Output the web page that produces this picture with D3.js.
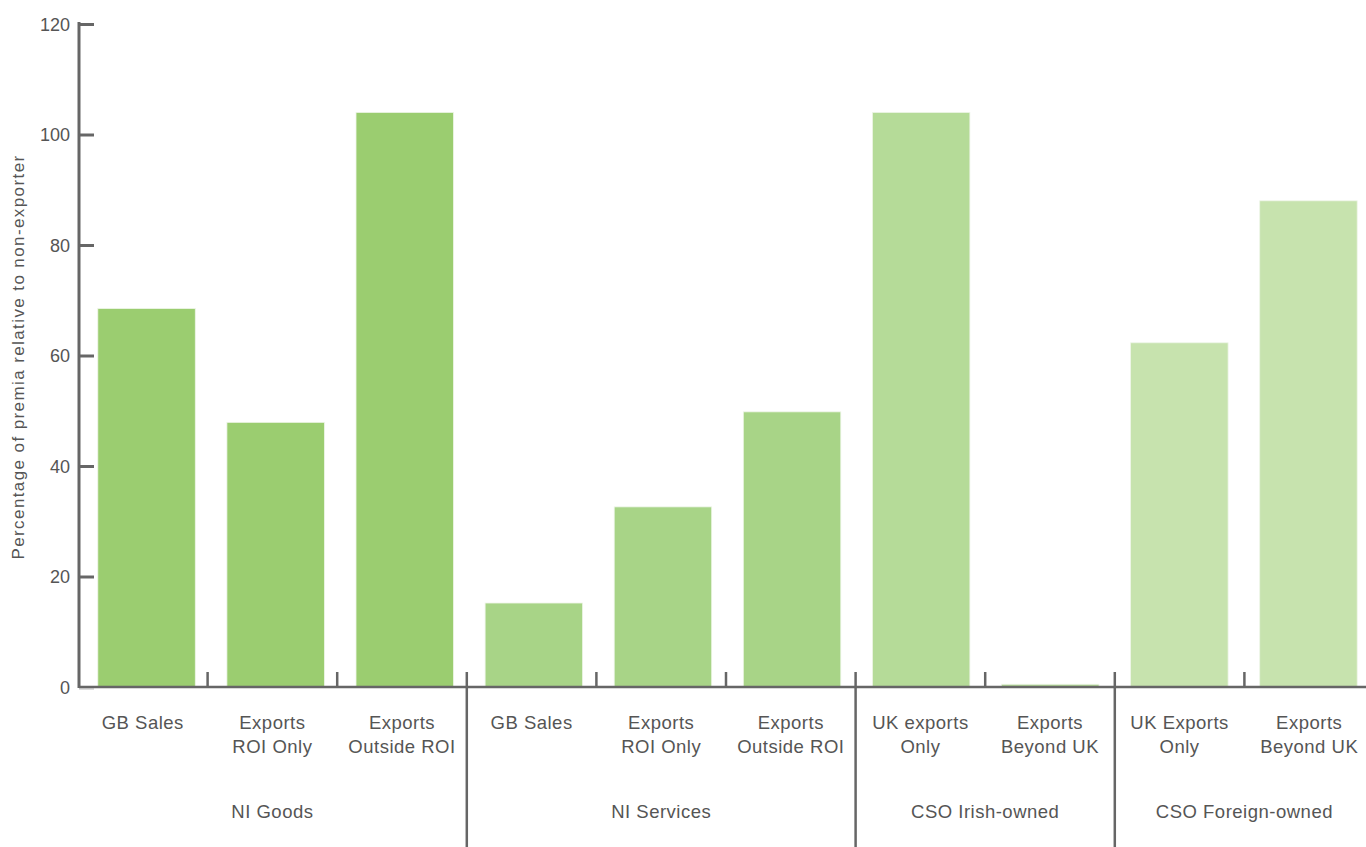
<!DOCTYPE html>
<html><head><meta charset="utf-8">
<script src="https://cdn.jsdelivr.net/npm/d3@7"></script>
<style>body{margin:0;background:#fff}svg{display:block}text{font-family:"Liberation Sans",Arial,sans-serif;fill:#555}</style>
</head><body>
<svg id="c" width="1366" height="847"></svg>
<script>
const categories = ["GB Sales","Exports\nROI Only","Exports\nOutside ROI","GB Sales","Exports\nROI Only","Exports\nOutside ROI","UK exports\nOnly","Exports\nBeyond UK","UK Exports\nOnly","Exports\nBeyond UK"];
const groups = ["NI Goods","NI Goods","NI Goods","NI Services","NI Services","NI Services","CSO Irish-owned","CSO Irish-owned","CSO Foreign-owned","CSO Foreign-owned"];
const values = [68.5, 47.9, 104, 15.2, 32.6, 49.8, 104, 0.5, 62.3, 88];
const groupColors = {"NI Goods":"#9bcd70","NI Services":"#a8d487","CSO Irish-owned":"#b5db98","CSO Foreign-owned":"#c7e3ae"};
const yTicks = [0,20,40,60,80,100,120];

const svg = d3.select("#c");
const x0 = 78, x1 = 1374, yTop = 24, yBase = 687;
// label / separator bands
const x = d3.scaleBand().domain(d3.range(categories.length)).range([x0, x1]);
// bar bands
const xb = d3.scaleBand().domain(d3.range(categories.length)).range([82, 1373]).paddingInner(0.245).paddingOuter(0.1225);
const y = d3.scaleLinear().domain([0,120]).range([yBase, yTop]);
const axisCol = "#666";

// bars
svg.append("g").selectAll("rect").data(values).join("rect")
  .attr("x",(d,i)=>xb(i)).attr("width",xb.bandwidth())
  .attr("y",d=>y(d)).attr("height",d=>y(0)-y(d))
  .attr("fill",(d,i)=>groupColors[groups[i]])
  .attr("stroke","#eef5e8").attr("stroke-width",0.8);

// y axis
const ya = svg.append("g").attr("transform",`translate(79,0)`)
  .call(d3.axisRight(y).tickValues(yTicks).tickSize(15).tickFormat(d3.format("d")));
ya.select(".domain").attr("stroke",axisCol).attr("stroke-width",3).attr("d",`M0,${yTop-2}V${yBase+1}`);
ya.selectAll(".tick line").attr("stroke",axisCol).attr("stroke-width",3);
ya.selectAll(".tick").filter(d=>d===0).select("line").attr("stroke","#ddd").attr("transform","translate(0,1)");
ya.selectAll(".tick text").attr("x",-9).attr("text-anchor","end").attr("fill","#555").style("font-size","18px").attr("dy","0.35em");

// x axis baseline
svg.append("line").attr("x1",79).attr("x2",1366).attr("y1",yBase).attr("y2",yBase).attr("stroke",axisCol).attr("stroke-width",2.6);

// separators
const sepIdx = d3.range(1,categories.length);
svg.append("g").selectAll("line").data(sepIdx).join("line")
  .attr("x1",i=>x(i)).attr("x2",i=>x(i))
  .attr("y1",672).attr("y2",i=>groups[i]!==groups[i-1]?847:687)
  .attr("stroke",axisCol).attr("stroke-width",2.5);

// category labels
const cl = svg.append("g").selectAll("text").data(categories).join("text")
  .attr("x",(d,i)=>x(i)+x.bandwidth()/2).attr("y",729)
  .attr("text-anchor","middle").style("font-size","18.5px").style("letter-spacing","0.5px");
cl.each(function(d){
  const t=d3.select(this);
  d.split("\n").forEach((s,k)=>t.append("tspan").attr("x",t.attr("x")).attr("dy",k?24:0).text(s));
});

// group labels
const gnames = [...new Set(groups)];
svg.append("g").selectAll("text").data(gnames).join("text")
  .attr("x",g=>{const idx=groups.map((v,i)=>v===g?i:-1).filter(i=>i>=0);
    const a=x(idx[0]), b=x(idx[idx.length-1])+x.bandwidth(); return (a+b)/2;})
  .attr("y",818).attr("text-anchor","middle").style("font-size","18.5px").style("letter-spacing","0.5px").text(d=>d);

// y label
svg.append("text").attr("transform","translate(24,357) rotate(-90)").attr("text-anchor","middle")
  .style("font-size","17px").style("letter-spacing","1.4px").text("Percentage of premia relative to non-exporter");
</script>
</body></html>
